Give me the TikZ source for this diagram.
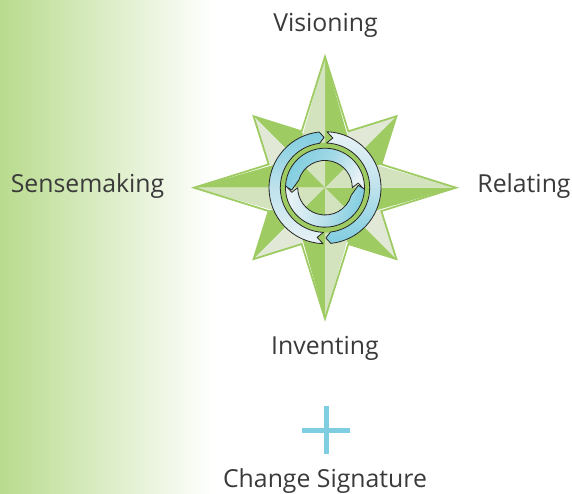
\documentclass[tikz,border=0pt]{standalone}
\usepackage{fontspec}
\setmainfont{Open Sans}
\usetikzlibrary{calc}
\definecolor{gdark}{HTML}{9FCB63}
\definecolor{glight}{HTML}{D2E3BE}
\definecolor{gpale}{HTML}{E1E9D6}
\definecolor{gband}{HTML}{B9DB8E}
\definecolor{ablue}{HTML}{7FCDE0}
\definecolor{awhite}{HTML}{E8F2F6}
\definecolor{amid}{HTML}{A3D9E6}
\definecolor{amidb}{HTML}{BFE2EC}
\definecolor{ink}{HTML}{3A3A3A}
\tikzset{
  x=1pt,y=1pt,
  lbl/.style={font=\fontsize{24.8}{28}\selectfont,text=ink,inner sep=0pt,anchor=center},
  ringarrow/.style={draw=black!85,line width=0.8pt,line join=round},
  starline/.style={draw=gdark,line width=1.8pt,line join=miter,miter limit=10},
  plusbar/.style={draw=ablue,line width=5pt},
}
\begin{document}
\begin{tikzpicture}
\useasboundingbox (0,0) rectangle (572,493);
\shade[left color=gband,right color=white] (0,0) rectangle (213,493);
\coordinate (c) at (325,305.3);
\def\Rtip{131}\def\Rdiag{101}\def\Rin{61}\def\Rcross{41}
% diagonal spikes
\foreach \a in {45,135,225,315}{
  \fill[gdark] (c) -- ($(c)+(\a:\Rdiag)$) -- ($(c)+(\a-22.5:\Rin)$) -- cycle;
  \fill[gpale] (c) -- ($(c)+(\a:\Rdiag)$) -- ($(c)+(\a+22.5:\Rin)$) -- cycle;
}
% cardinal spikes on top
\foreach \a in {0,90,180,270}{
  \fill[gdark] (c) -- ($(c)+(\a:\Rtip)$) -- ($(c)+(\a-45:\Rcross)$) -- cycle;
  \fill[glight] (c) -- ($(c)+(\a:\Rtip)$) -- ($(c)+(\a+45:\Rcross)$) -- cycle;
}
% star outline
\draw[starline]
  ($(c)+(0:\Rtip)$) -- ($(c)+(22.5:\Rin)$) -- ($(c)+(45:\Rdiag)$) -- ($(c)+(67.5:\Rin)$)
  -- ($(c)+(90:\Rtip)$) -- ($(c)+(112.5:\Rin)$) -- ($(c)+(135:\Rdiag)$) -- ($(c)+(157.5:\Rin)$)
  -- ($(c)+(180:\Rtip)$) -- ($(c)+(202.5:\Rin)$) -- ($(c)+(225:\Rdiag)$) -- ($(c)+(247.5:\Rin)$)
  -- ($(c)+(270:\Rtip)$) -- ($(c)+(292.5:\Rin)$) -- ($(c)+(315:\Rdiag)$) -- ($(c)+(337.5:\Rin)$)
  -- cycle;
% green annulus between rings
\fill[gdark,even odd rule] (c) circle[radius=45] (c) circle[radius=39];
% outer arrows
\foreach \r/\ca/\cb in {0/ablue/awhite,180/awhite/ablue}{
  \shadedraw[ringarrow,top color=\ca,bottom color=\cb,middle color=amidb]
    ($(c)+(268+\r:56)$) arc[start angle=268+\r,end angle=96+\r,radius=56]
    -- ($(c)+(91+\r:50.3)$) -- ($(c)+(97+\r:44.7)$)
    arc[start angle=97+\r,end angle=268+\r,radius=44.7]
    -- ($(c)+(261+\r:50.3)$) -- cycle;
}
% inner arrows
\foreach \r/\ang/\m in {0/60/amid,180/-105/amidb}{
  \shadedraw[ringarrow,top color=ablue,bottom color=awhite,middle color=\m,shading angle=\ang]
    ($(c)+(-3+\r:39.5)$) arc[start angle=-3+\r,end angle=178+\r,radius=39.5]
    -- ($(c)+(184+\r:33.4)$) -- ($(c)+(164+\r:27.3)$)
    arc[start angle=164+\r,end angle=0+\r,radius=27.3]
    -- ($(c)+(8+\r:33.5)$) -- cycle;
}
% plus sign
\coordinate (pl) at (302,63);
\coordinate (pr) at (350,63);
\coordinate (pt) at (326,87);
\coordinate (pb) at (326,39);
\draw[plusbar] (pl) -- (pr);
\draw[plusbar] (pt) -- (pb);
% labels
\node[lbl] (vis) at (325.5,467.3) {Visioning};
\node[lbl] (sen) at (87.5,306.7) {Sensemaking};
\node[lbl] (rel) at (524,306.7) {Relating};
\node[lbl] (inv) at (325,144.2) {Inventing};
\node[lbl] (chg) at (325,11.5) {Change Signature};
\end{tikzpicture}
\end{document}
